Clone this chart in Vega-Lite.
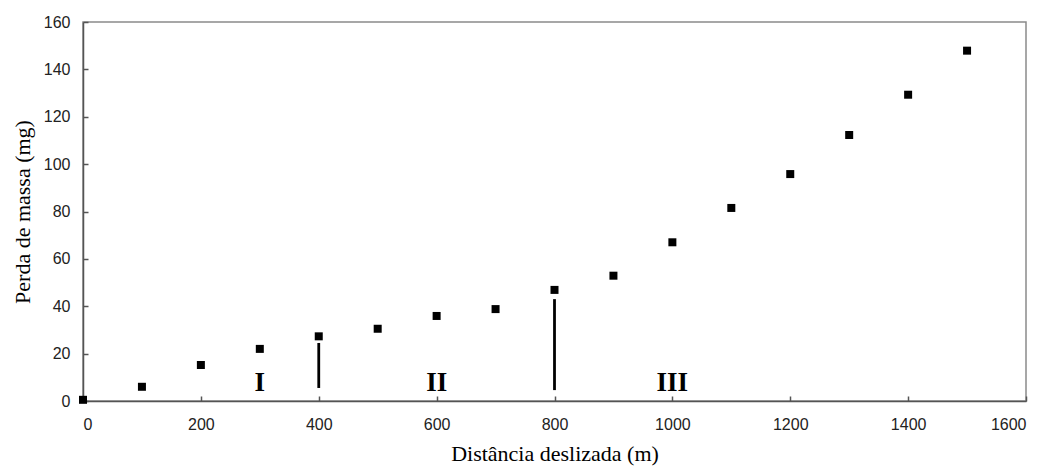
{
  "$schema": "https://vega.github.io/schema/vega-lite/v6.json",
  "autosize": {"type": "none"},
  "width": 943,
  "height": 379,
  "padding": {"left": 83, "top": 22, "right": 25, "bottom": 68},
  "background": "white",
  "config": {
    "view": {"stroke": "#8a8a8a", "strokeWidth": 1.5},
    "axis": {
      "grid": false,
      "domainColor": "#555555",
      "domainWidth": 1.5,
      "tickColor": "#555555",
      "tickSize": -5,
      "tickWidth": 1.5,
      "labelFont": "Liberation Sans",
      "labelFontSize": 16,
      "labelColor": "#222222",
      "titleFont": "Liberation Serif",
      "titleFontSize": 22,
      "titleFontWeight": "normal",
      "titleColor": "#000000"
    }
  },
  "datasets": {
    "pts": [
      {"d": 0, "m": 0.5},
      {"d": 100, "m": 6.0},
      {"d": 200, "m": 15.2},
      {"d": 300, "m": 22.0},
      {"d": 400, "m": 27.3},
      {"d": 500, "m": 30.5},
      {"d": 600, "m": 35.9},
      {"d": 700, "m": 38.8},
      {"d": 800, "m": 46.9},
      {"d": 900, "m": 52.9},
      {"d": 1000, "m": 67.0},
      {"d": 1100, "m": 81.5},
      {"d": 1200, "m": 95.8},
      {"d": 1300, "m": 112.3},
      {"d": 1400, "m": 129.3},
      {"d": 1500, "m": 147.9}
    ],
    "seps": [
      {"d": 400, "lo": 5.5, "hi": 24.5},
      {"d": 800, "lo": 4.6, "hi": 43}
    ],
    "labs": [
      {"d": 300, "m": 7.4, "t": "I"},
      {"d": 600, "m": 7.4, "t": "II"},
      {"d": 1000, "m": 7.4, "t": "III"}
    ]
  },
  "layer": [
    {
      "data": {"name": "seps"},
      "mark": {"type": "rule", "color": "black", "strokeWidth": 2.8},
      "encoding": {
        "x": {"field": "d", "type": "quantitative", "scale": {"domain": [0, 1600]}},
        "y": {"field": "lo", "type": "quantitative", "scale": {"domain": [0, 160]}},
        "y2": {"field": "hi"}
      }
    },
    {
      "data": {"name": "labs"},
      "mark": {"type": "text", "font": "Liberation Serif", "fontWeight": "bold", "fontSize": 27, "color": "black", "baseline": "middle", "align": "center"},
      "encoding": {
        "x": {"field": "d", "type": "quantitative"},
        "y": {"field": "m", "type": "quantitative"},
        "text": {"field": "t"}
      }
    },
    {
      "data": {"name": "pts"},
      "mark": {"type": "point", "shape": "square", "filled": true, "color": "black", "opacity": 1, "size": 64},
      "encoding": {
        "x": {
          "field": "d", "type": "quantitative",
          "scale": {"domain": [0, 1600], "nice": false},
          "axis": {"values": [0, 200, 400, 600, 800, 1000, 1200, 1400, 1600], "format": "d", "title": "Distância deslizada (m)", "labelPadding": 20, "titleY": 52, "titleBaseline": "middle"}
        },
        "y": {
          "field": "m", "type": "quantitative",
          "scale": {"domain": [0, 160], "nice": false},
          "axis": {"values": [0, 20, 40, 60, 80, 100, 120, 140, 160], "format": "d", "title": "Perda de massa (mg)", "labelPadding": 18, "titleX": -61, "titleBaseline": "middle"}
        }
      }
    }
  ]
}
